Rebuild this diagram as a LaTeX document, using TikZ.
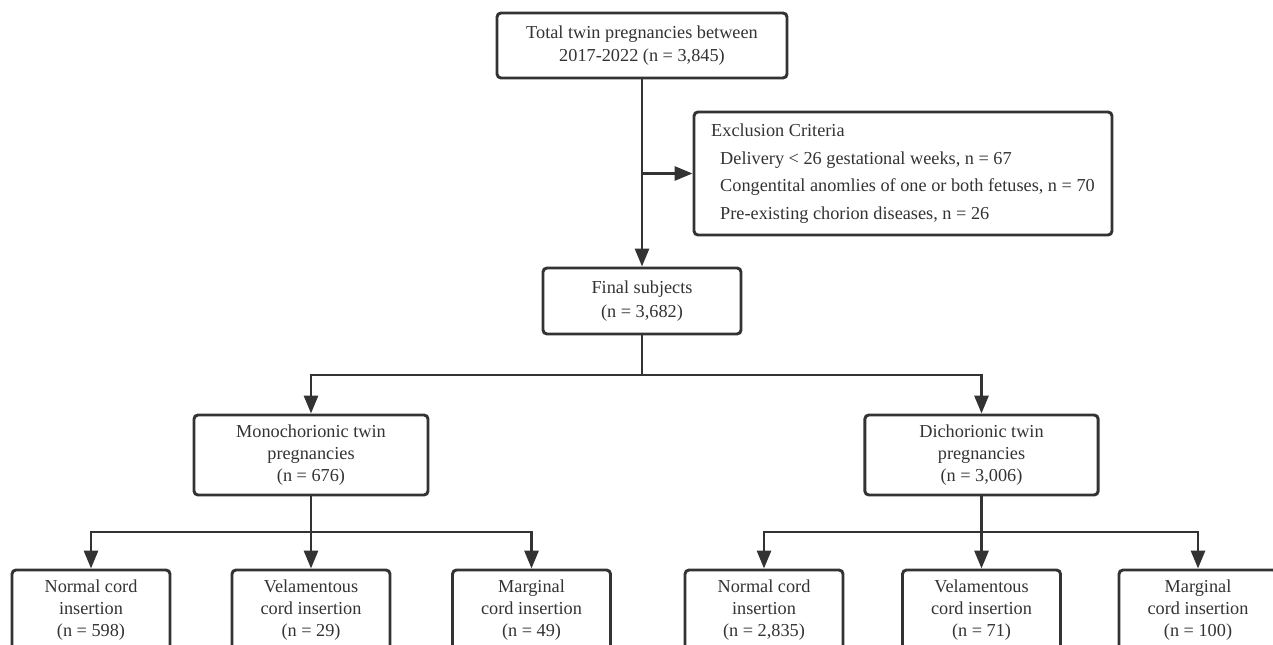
\documentclass[tikz,border=0pt]{standalone}
\usepackage{fontspec}
\setmainfont{Liberation Serif}
\usetikzlibrary{arrows.meta}
\definecolor{ink}{HTML}{333333}

\begin{document}
\begin{tikzpicture}[x=0.75pt, y=-0.75pt,
  box/.style={draw=ink, line width=2.2pt, rounded corners=3pt, align=center, text=ink,
    inner sep=0pt, font=\fontsize{13.7}{16.3}\selectfont},
  leaf/.style={box, minimum width=118.5pt, minimum height=60pt},
  wire/.style={draw=ink, line width=2.2pt},
  arr/.style={wire, -{Triangle[length=13.5pt, width=10.5pt]}}]
  \clip (0,0) rectangle (1273,645);
  \fill[white] (0,0) rectangle (1273,645);

  \node[box, minimum width=217.5pt, minimum height=48.75pt, font=\fontsize{13.7}{17}\selectfont] (total) at (642,45.5)
    {Total twin pregnancies between\\2017-2022 (n = 3,845)};
  \node[box, minimum width=313.5pt, minimum height=92.25pt, align=left,
    font=\fontsize{13.7}{20.75}\selectfont] (excl) at (903,173.5)
    {Exclusion Criteria\\
     \hspace*{6.75pt}Delivery < 26 gestational weeks, n = 67\\
     \hspace*{6.75pt}Congentital anomlies of one or both fetuses, n = 70\\
     \hspace*{6.75pt}Pre-existing chorion diseases, n = 26};
  \node[box, minimum width=148.5pt, minimum height=49.5pt, font=\fontsize{13.7}{17.5}\selectfont] (final) at (642,301)
    {Final subjects\\(n = 3,682)};
  \node[box, minimum width=175.5pt, minimum height=60pt] (mono) at (311,455)
    {Monochorionic twin\\pregnancies\\(n = 676)};
  \node[box, minimum width=175pt, minimum height=60pt] (di) at (981.5,455)
    {Dichorionic twin\\pregnancies\\(n = 3,006)};

  \node[leaf] (mnormal) at (91,610) {Normal cord\\insertion\\(n = 598)};
  \node[leaf] (mvelam) at (311,610) {Velamentous\\cord insertion\\(n = 29)};
  \node[leaf] (mmarg) at (531.5,610) {Marginal\\cord insertion\\(n = 49)};
  \node[leaf] (dnormal) at (764,610) {Normal cord\\insertion\\(n = 2,835)};
  \node[leaf] (dvelam) at (981.5,610) {Velamentous\\cord insertion\\(n = 71)};
  \node[leaf] (dmarg) at (1198,610) {Marginal\\cord insertion\\(n = 100)};

  \coordinate (split) at (642,375);
  \coordinate (msplit) at (311,532);
  \coordinate (dsplit) at (981.5,532);

  \draw[arr] (total) -- (final);
  \draw[arr] (total.south |- excl.west) -- (excl.west);
  \draw[wire] (final) -- (split);
  \draw[arr] (split) -| (mono);
  \draw[arr] (split) -| (di);
  \draw[wire] (mono) -- (msplit);
  \draw[wire] (di) -- (dsplit);
  \foreach \b in {normal, velam, marg}{
    \draw[arr] (msplit) -| (m\b);
    \draw[arr] (dsplit) -| (d\b);
  }
\end{tikzpicture}
\end{document}
